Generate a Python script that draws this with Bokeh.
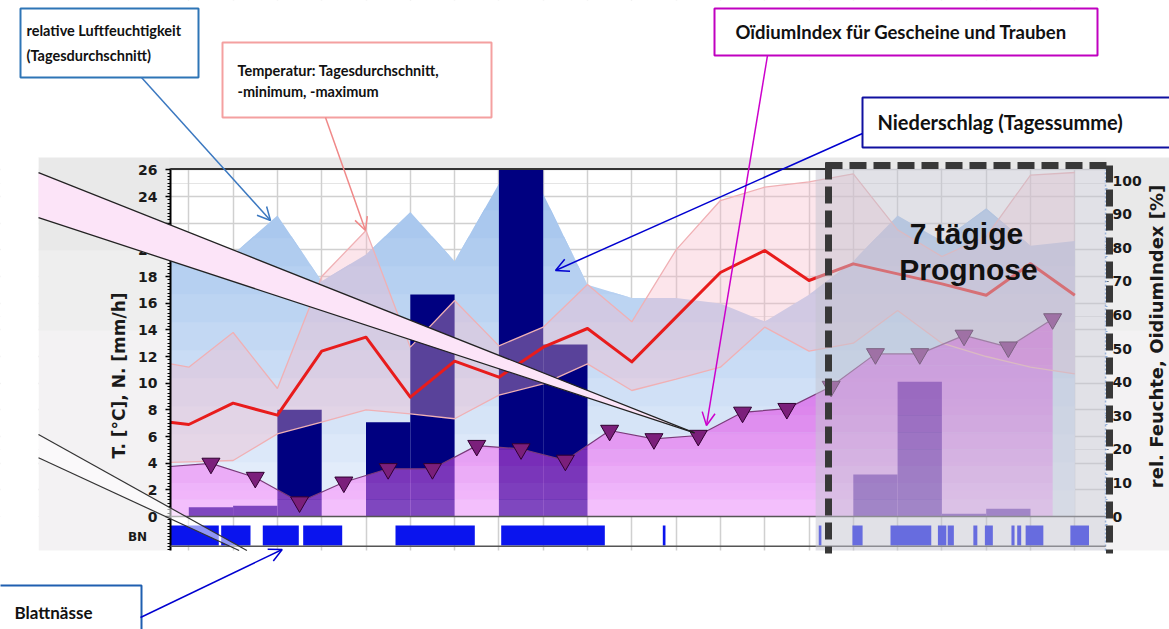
import numpy as np
from bokeh.plotting import figure
from bokeh.models import (Range1d, LinearAxis, FixedTicker, Grid, BoxAnnotation,
                          PolyAnnotation, Label, Arrow, OpenHead)
from bokeh.embed import file_html
from bokeh.resources import INLINE

# ---------------- data ----------------
days = [-1, 0, 1, 2, 3, 4, 5, 6, 7, 8, 9, 10, 11, 12, 13, 14, 15, 16, 17, 18, 19, 20]
humidity = [79, 79, 78, 89.6, 70, 78, 90.6, 76, 99, 96, 69, 65, 65, 63.4, 58, 66,
            76, 89.6, 82, 91.7, 80.6, 82]                       # rel. Feuchte [%]
t_avg = [7.3, 6.9, 8.5, 7.6, 12.4, 13.45, 8.95, 11.65, 10.45, 12.7, 14.1, 11.6,
         14.95, 18.3, 19.95, 17.7, 18.95, 18.2, 17.45, 16.6, 18.95, 16.6]
t_min = [4.0, 4.1, 4.2, 6.2, 7.07, 8.0, 7.7, 7.33, 9.1, 9.95, 11.45, 9.45, 10.3,
         11.2, 14.2, 12.4, 13.0, 15.45, 13.0, 12.0, 11.2, 10.7]
t_max = [11.8, 11.2, 13.8, 9.6, 18.0, 21.45, 12.7, 16.2, 12.8, 14.2, 17.4, 14.6,
         20.0, 23.7, 24.7, 25.1, 25.7, 21.5, 19.5, 21.0, 25.6, 25.8]
half_days = [-0.5, 0.5, 1.5, 2.5, 3.5, 4.5, 5.5, 6.5, 7.5, 8.5, 9.5, 10.5, 11.5,
             12.5, 13.5, 14.5, 15.5, 16.5, 17.5, 18.5, 19.5]
oidium = [14.8, 15.8, 11.6, 4.3, 10.2, 14.2, 14.2, 21.1, 20.1, 16.7, 25.6, 23.1,
          24.1, 31.0, 32.1, 38.7, 48.4, 48.4, 53.9, 50.4, 58.8]   # OidiumIndex [%]
rain_days = [0.5, 1.5, 2.5, 3.5, 4.5, 5.5, 6.5, 7.5, 8.5, 9.5, 10.5, 11.5, 12.5,
             13.5, 14.5, 15.5, 16.5, 17.5, 18.5]
rain = [0.7, 0.8, 8.0, 0, 7.07, 16.65, 0, 27.0, 12.9, 0, 0, 0, 0, 0, 0, 3.15,
        10.1, 0.2, 0.58]                                          # Niederschlag
bn_start = [-0.5, 0.731, 1.670, 2.582, 4.666, 7.052, 10.70, 14.22, 14.98, 15.84,
            16.91, 17.13, 17.71, 17.97, 18.57, 18.70, 18.89, 19.90]
bn_end = [0.677, 1.393, 2.483, 3.463, 6.456, 9.391, 10.76, 14.28, 15.21, 16.76,
          17.10, 17.27, 17.80, 18.15, 18.64, 18.79, 19.29, 20.32]
left_ticks = [0, 2, 4, 6, 8, 10, 12, 14, 16, 18, 20, 22, 24, 26]
right_ticks = [0, 10, 20, 30, 40, 50, 60, 70, 80, 90, 100]
grid_days = list(range(0, 21))
forecast_start = 14.15

# ---------------- reference-pixel helpers (layout only) ----------------
X0, DX = 188.3, 44.3
Y0, DY, PY = 516.0, 13.333, 3.36
def sx(px): return (px - X0) / DX
def sy(py): return (Y0 - py) / DY
def sp(py): return (Y0 - py) / PY

W, H = 1169, 629
p = figure(width=W, height=H, output_backend="svg", toolbar_location=None, title=None,
           x_range=Range1d(sx(0), sx(W)), y_range=Range1d(sy(H), sy(0)),
           x_axis_location=None, y_axis_location=None,
           min_border_left=0, min_border_right=0, min_border_top=0, min_border_bottom=0,
           background_fill_color="white", border_fill_color="white",
           outline_line_color=None)
p.extra_y_ranges = {"pct": Range1d(sp(H), sp(0))}

# axes (placed inside the canvas)
lax = LinearAxis(fixed_location=sx(170), bounds=(sy(550), sy(168)),
                 ticker=FixedTicker(ticks=left_ticks,
                                    minor_ticks=list(np.arange(-2.5, 26.1, 0.25))))
lax.axis_line_color = "black"; lax.axis_line_width = 2
lax.major_tick_out = 5; lax.major_tick_in = 0; lax.major_tick_line_width = 1.5
lax.minor_tick_out = 3; lax.minor_tick_in = 0; lax.minor_tick_line_color = "black"
lax.major_label_text_font = "DejaVu Sans"; lax.major_label_text_font_style = "bold"
lax.major_label_text_font_size = "14px"; lax.major_label_standoff = 8
lax.major_label_text_color = "#1a1a1a"
p.add_layout(lax, "left")

rax = LinearAxis(y_range_name="pct", fixed_location=sx(1105), bounds=(sp(550), sp(168)),
                 ticker=FixedTicker(ticks=right_ticks,
                                    minor_ticks=list(np.arange(-10, 103, 2.5))))
rax.axis_line_color = "#8aaad8"; rax.axis_line_width = 1.5; rax.axis_line_dash = "2 2"
rax.major_tick_out = 3; rax.major_tick_in = 0; rax.major_tick_line_color = "#333333"
rax.minor_tick_out = 2; rax.minor_tick_in = 0; rax.minor_tick_line_color = "#8aaad8"
rax.major_label_text_font = "DejaVu Sans"; rax.major_label_text_font_style = "bold"
rax.major_label_text_font_size = "14px"; rax.major_label_standoff = 4
rax.major_label_text_color = "#1a1a1a"
p.add_layout(rax, "right")

p.add_layout(Grid(dimension=0, ticker=FixedTicker(ticks=grid_days),
                  grid_line_color="#d0d0d0", grid_line_width=1.5))
p.add_layout(Grid(dimension=1, ticker=FixedTicker(ticks=left_ticks[1:]),
                  grid_line_color="#d0d0d0", grid_line_width=1.5))

# gradient helpers
def refine(xs, ys, levels):
    xs = np.asarray(xs, float); ys = np.asarray(ys, float)
    ox, oy = [xs[0]], [ys[0]]
    for i in range(len(xs) - 1):
        x0, x1, y0, y1 = xs[i], xs[i + 1], ys[i], ys[i + 1]
        ts = sorted((L - y0) / (y1 - y0) for L in levels if (y0 - L) * (y1 - L) < 0)
        for t in ts:
            ox.append(x0 + t * (x1 - x0)); oy.append(y0 + t * (y1 - y0))
        ox.append(x1); oy.append(y1)
    return np.array(ox), np.array(oy)

def hexcol(rgb):
    return "#%02x%02x%02x" % tuple(int(round(c)) for c in rgb)

# humidity area (gradient, opaque)
hl = np.linspace(0, 100, 13)
hx, hy = refine(days, humidity, hl)
for i in range(len(hl) - 1):
    a, b = hl[i], hl[i + 1]
    t = (a + b) / 200.0
    col = hexcol([236 + (160 - 236) * t, 242 + (194 - 242) * t, 252 + (236 - 252) * t])
    p.varea(x=hx, y1=np.minimum(hy, a - (0.5 if i else 0)), y2=np.minimum(hy, b),
            fill_color=col, y_range_name="pct")

# precipitation bars
p.vbar(x=rain_days, top=rain, width=1.0, bottom=0, fill_color="#000080", line_color=None)

# temperature min-max band
p.varea(x=days, y1=t_min, y2=t_max, fill_color="#f8b8c8", fill_alpha=0.36)

# oidium area (gradient, translucent)
ol = np.linspace(0, 60, 13)
ox, oy = refine(half_days, oidium, ol)
for i in range(len(ol) - 1):
    a, b = ol[i], ol[i + 1]
    m = (a + b) / 2
    col = hexcol([np.interp(m, [0, 32, 60], [255, 228, 215]),
                  np.interp(m, [0, 32, 60], [150, 40, 10]),
                  np.interp(m, [0, 32, 60], [255, 228, 215])])
    p.varea(x=ox, y1=np.minimum(oy, a), y2=np.minimum(oy, b), fill_color=col,
            fill_alpha=0.5, y_range_name="pct")

p.line(days, t_max, line_color="#f0b0b4", line_width=1.3)
p.line(days, t_min, line_color="#f0b0b4", line_width=1.3)
p.line(half_days, oidium, line_color="#7a3a7a", line_width=1.2, y_range_name="pct")
p.line(days, t_avg, line_color="#e81c1c", line_width=3, line_join="round")
p.scatter(half_days[1:], oidium[1:], marker="inverted_triangle", size=18,
          fill_color="#7b1f7b", line_color="#300030", line_width=1, y_range_name="pct")

# leaf wetness strip
p.quad(left=bn_start, right=bn_end, bottom=sy(545), top=sy(525),
       fill_color="#0a14ee", line_color=None)

# page background outside the chart's plot area (covers overflow of the marks)
covers = [(38, 170.5, 156, 551, "#f3f2f3"), (38, 170.5, 156, 330, "#eeeeee"),
          (38, 170.5, 156, 250, "#e9e9e9"),
          (169, W, 156, 168, "#e8e8e8"), (1105.5, W, 167, 551, "#f3f2f3"),
          (1105.5, W, 156, 330, "#eeeeee"), (1105.5, W, 156, 250, "#e9e9e9"),
          (0, W, 0, 157, "white"), (0, 38, 157, H, "white"), (0, W, 550, H, "white")]
p.quad(left=[sx(c[0]) for c in covers], right=[sx(c[1]) for c in covers],
       top=[sy(c[2]) for c in covers], bottom=[sy(c[3]) for c in covers],
       fill_color=[c[4] for c in covers], line_color=None)

def seg(x0, y0, x1, y1, color, width, dash="solid"):
    p.add_layout(Arrow(end=None, x_start=sx(x0), y_start=sy(y0), x_end=sx(x1), y_end=sy(y1),
                       line_color=color, line_width=width, line_dash=dash))

seg(170, 516, 1105, 516, "#555555", 1.5)
seg(170, 545.7, 1105, 545.7, "#555555", 1.5)

# forecast overlay
p.add_layout(BoxAnnotation(left=forecast_start, right=sx(1105), top=sy(168), bottom=sy(550),
                           fill_color="#c4c4d0", fill_alpha=0.5, line_alpha=0))

seg(170, 168.5, 826, 168.5, "#333333", 2)
# forecast dashed frame
seg(828, 162, 828, 553, "#383838", 7, "17 7")
seg(825, 165, 1112, 165, "#383838", 7, "17 7")
seg(1109, 165, 1109, 553, "#383838", 7, "17 7")

# axis titles and labels
def lab(x, y, text, size, font="DejaVu Sans", align="center", base="middle",
        angle=0.0, color="#1a1a1a", style="bold"):
    p.add_layout(Label(x=sx(x), y=sy(y), text=text, text_font=font,
                       text_font_size=size, text_font_style=style, text_align=align,
                       text_baseline=base, angle=angle, text_color=color))

lab(118, 375, "T. [°C], N. [mm/h]", "17px", angle=np.pi / 2)
lab(1156, 336, "rel. Feuchte, OidiumIndex [%]", "18px", angle=np.pi / 2)
lab(137, 536, "BN", "12px")
lab(966, 233, "7 tägige", "30px", font="Liberation Sans", color="#111111")
lab(968, 269, "Prognose", "30px", font="Liberation Sans", color="#111111")

# callout wedges
p.add_layout(PolyAnnotation(xs=[sx(38), sx(694), sx(38)], ys=[sy(172.2), sy(432.4), sy(217.1)],
                            fill_color="#fce4f8", fill_alpha=1, line_alpha=0))
seg(38, 172.2, 694, 432.4, "#222222", 1.3)
seg(38, 217.1, 694, 432.4, "#222222", 1.3)
p.add_layout(PolyAnnotation(xs=[sx(38), sx(246.4), sx(238.6), sx(38)],
                            ys=[sy(434), sy(550), sy(550), sy(457.3)],
                            fill_color="white", fill_alpha=0.55, line_alpha=0))
seg(38, 434, 246.4, 550, "#333333", 1.2)
seg(38, 457.3, 238.6, 550, "#333333", 1.2)

# annotation boxes
boxes = [(20, 198, 8, 77, "#2e75b6"), (222, 491, 42, 117, "#f4a0a0"),
         (714, 1097, 8, 55, "#c000c0"), (862, 1172, 97, 147, "#1010a0"),
         (-5, 141, 585, 640, "#1f5fb0")]
for l, r, t, b, c in boxes:
    p.add_layout(BoxAnnotation(left=sx(l), right=sx(r), top=sy(t), bottom=sy(b),
                               fill_color="white", fill_alpha=1, line_color=c,
                               line_width=2, line_alpha=1))

def txt(x, y, text, size="14px"):
    lab(x, y, text, size, font="Lato", align="left", base="middle", color="#111111")

txt(26, 30, "relative Luftfeuchtigkeit", "14.5px")
txt(26, 54.5, "(Tagesdurchschnitt)", "14.5px")
txt(237, 70, "Temperatur: Tagesdurchschnitt,", "14.5px")
txt(237, 90.5, "-minimum, -maximum", "14.5px")
txt(735, 31, "OïdiumIndex für Gescheine und Trauben", "18.5px")
txt(877, 121, "Niederschlag (Tagessumme)", "20px")
txt(14, 612, "Blattnässe", "17px")

def arrow(x0, y0, x1, y1, c):
    p.add_layout(Arrow(end=OpenHead(size=13, line_color=c, line_width=1.5),
                       x_start=sx(x0), y_start=sy(y0), x_end=sx(x1), y_end=sy(y1),
                       line_color=c, line_width=1.5))

arrow(141, 77, 270, 220, "#3b78c0")
arrow(325, 117, 365, 230, "#f08888")
arrow(767, 55, 706, 425, "#cc00cc")
arrow(862, 133, 555, 270, "#0000d0")
arrow(140, 617, 281.7, 549, "#0000d0")

open("out.html", "w").write(file_html(p, INLINE))
